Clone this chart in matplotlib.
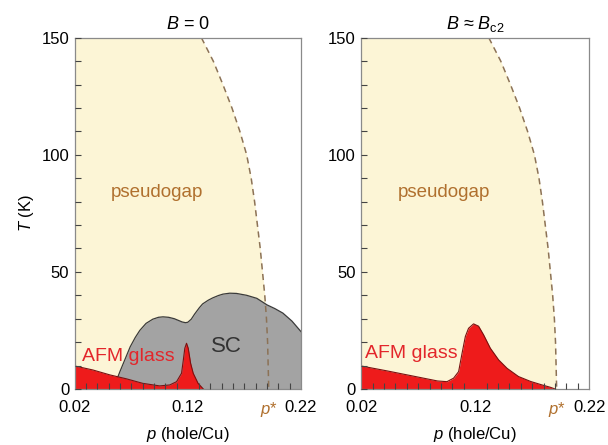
import matplotlib
matplotlib.use("Agg")
import matplotlib.pyplot as plt
from matplotlib.ticker import MultipleLocator

plt.rcParams['font.family'] = ['Liberation Sans', 'DejaVu Sans']
plt.rcParams['mathtext.fontset'] = 'custom'
plt.rcParams['mathtext.it'] = 'Liberation Sans:italic'
plt.rcParams['mathtext.rm'] = 'Liberation Sans'

# Pseudogap boundary T*(p)
pg_T = [150, 140, 130, 120, 110, 100, 90, 80, 70, 60, 50, 40, 30, 20, 10, 0]
pg_p = [0.132, 0.1425, 0.151, 0.159, 0.166, 0.172, 0.176, 0.179, 0.1815,
        0.184, 0.186, 0.188, 0.1895, 0.1905, 0.191, 0.1915]

# Superconducting dome (B = 0)
sc_p = [0.054, 0.057, 0.060, 0.063, 0.069, 0.0735, 0.0775, 0.083, 0.089, 0.094,
        0.098, 0.103, 0.108, 0.112, 0.115, 0.118, 0.120, 0.123, 0.126, 0.130,
        0.133, 0.138, 0.142, 0.147, 0.151, 0.157, 0.163, 0.172, 0.181, 0.190,
        0.197, 0.204, 0.212, 0.22]
sc_T = [0, 3.8, 7.5, 11, 18, 22, 25, 28, 29.8, 30.6,
        30.8, 30.6, 30, 29.2, 28.6, 28.3, 28.5, 29.8, 32, 34.6,
        36.3, 37.9, 38.9, 39.9, 40.5, 40.9, 40.8, 40, 38.7, 35.9,
        34.3, 32.4, 29, 24.5]

# AFM glass (B = 0)
afm0_p = [0.02, 0.036, 0.051, 0.0658, 0.080, 0.095, 0.104, 0.110, 0.1144,
          0.116, 0.1173, 0.1188, 0.1203, 0.1224, 0.1247, 0.129, 0.1336]
afm0_T = [9.8, 8.1, 6.0, 4.3, 2.4, 1.3, 1.7, 3.1, 6.7,
          12.4, 17.4, 19.5, 17.4, 11, 6.7, 2.4, 0]

# AFM glass (B ~ Bc2)
afm1_p = [0.02, 0.0428, 0.0665, 0.087, 0.0953, 0.1011, 0.1055, 0.1085, 0.1114,
          0.1142, 0.1186, 0.1230, 0.1274, 0.1333, 0.1406, 0.148, 0.158,
          0.1686, 0.178, 0.186, 0.190]
afm1_T = [9.8, 7.7, 5.4, 3.4, 3.1, 4.6, 7.4, 15.2, 22.4,
          25.9, 27.8, 26.8, 23.1, 17.4, 12.4, 8.8, 5.3,
          3.2, 1.8, 0.7, 0]

titles = ["$B$ = 0", r"$B$ ≈ $B_{\mathrm{c2}}$"]
xtick_vals = [0.02, 0.12, 0.1915, 0.22]
xtick_labels = ["0.02", "0.12", "$p$*", "0.22"]
ytick_vals = [0, 50, 100, 150]

cream = "#FCF5D6"
gray = "#A3A3A3"
red = "#EE1B1B"
brown = "#B0702E"
dash_col = "#8C7256"

fig = plt.figure(figsize=(6.08, 4.45), dpi=100)
axL = fig.add_axes([0.123, 0.126, 0.372, 0.789])
axR = fig.add_axes([0.594, 0.126, 0.375, 0.789])

for i, ax in enumerate([axL, axR]):
    ax.set_xlim(0.02, 0.22)
    ax.set_ylim(0, 150)
    ax.fill_betweenx(pg_T, 0.02, pg_p, color=cream, lw=0, zorder=1)
    if i == 0:
        ax.fill_between(sc_p, 0, sc_T, color=gray, lw=0, zorder=2)
        ax.plot(sc_p, sc_T, color="#3A3A3A", lw=0.9, zorder=3)
        ax.fill_between(afm0_p, 0, afm0_T, color=red, lw=0, zorder=4)
        ax.plot(afm0_p, afm0_T, color="#7A1010", lw=0.8, zorder=5)
        ax.text(0.154, 18, "SC", color="#333333", fontsize=16, ha="center", va="center", zorder=6)
        ax.text(0.067, 13.7, "AFM glass", color="#E3262B", fontsize=14, ha="center", va="center", zorder=6)
        ax.set_ylabel("$T$ (K)", fontsize=12, labelpad=4)
    else:
        ax.fill_between(afm1_p, 0, afm1_T, color=red, lw=0, zorder=4)
        ax.plot(afm1_p, afm1_T, color="#7A1010", lw=0.8, zorder=5)
        ax.text(0.064, 15, "AFM glass", color="#E3262B", fontsize=14, ha="center", va="center", zorder=6)
    ax.plot(pg_p, pg_T, color=dash_col, lw=1.1, ls=(0, (4, 3)), zorder=7)
    ax.text(0.093, 84, "pseudogap", color=brown, fontsize=13.5, ha="center", va="center", zorder=6)
    ax.set_title(titles[i], fontsize=13, pad=6)
    ax.set_xlabel("$p$ (hole/Cu)", fontsize=12, labelpad=4)

    ax.set_xticks(xtick_vals)
    ax.set_xticklabels(xtick_labels)
    ax.get_xticklabels()[2].set_color(brown)
    ax.xaxis.set_minor_locator(MultipleLocator(0.01))
    ax.set_yticks(ytick_vals)
    ax.yaxis.set_minor_locator(MultipleLocator(10))
    ax.tick_params(axis="both", which="major", labelsize=12, direction="in",
                   length=4, color="#444444", width=0.8, pad=4)
    ax.tick_params(axis="x", which="major", length=0, pad=8)
    ax.tick_params(axis="both", which="minor", direction="in", length=4,
                   color="#444444", width=0.8)
    ax.xaxis.set_zorder(9)
    ax.yaxis.set_zorder(9)
    for s in ax.spines.values():
        s.set_color("#8A8A8A")
        s.set_linewidth(0.9)
        s.set_zorder(8)

fig.savefig("out.png", dpi=100)
